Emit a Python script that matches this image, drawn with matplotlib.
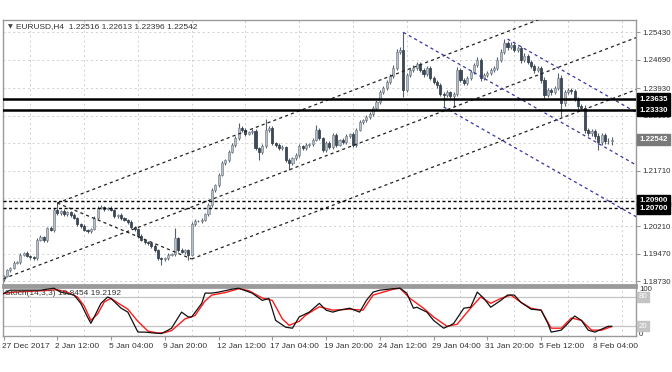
import matplotlib
matplotlib.use('Agg')
import matplotlib.pyplot as plt
import matplotlib.transforms as mtransforms
import numpy as np

plt.rcParams['font.family'] = ['Liberation Sans', 'DejaVu Sans']

# ---------------- data ----------------
first_open = 1.18800
closes = [
    1.18872, 1.19033, 1.19087, 1.19222, 1.19249, 1.19437, 1.19491, 1.19410, 1.19383, 1.19356,
    1.19841, 1.19921, 1.19841, 1.20164, 1.20110, 1.20648, 1.20567, 1.20621, 1.20540, 1.20594,
    1.20513, 1.20433, 1.20271, 1.20217, 1.20110, 1.20083, 1.20137, 1.20433, 1.20702, 1.20729,
    1.20675, 1.20702, 1.20648, 1.20486, 1.20513, 1.20433, 1.20379, 1.20325, 1.20190, 1.20137,
    1.19948, 1.19841, 1.19787, 1.19760, 1.19679, 1.19571, 1.19356, 1.19329, 1.19356, 1.19437,
    1.19464, 1.19894, 1.19571, 1.19518, 1.19571, 1.19437, 1.20271, 1.20352, 1.20352, 1.20379,
    1.20540, 1.20782, 1.21186, 1.21321, 1.21590, 1.21913, 1.21993, 1.22209, 1.22397, 1.22585,
    1.22855, 1.22801, 1.22693, 1.22747, 1.22774, 1.22316, 1.22209, 1.22370, 1.22801, 1.22855,
    1.22451, 1.22397, 1.22316, 1.22343, 1.21993, 1.21913, 1.22047, 1.22128, 1.22370, 1.22316,
    1.22397, 1.22424, 1.22532, 1.22801, 1.22585, 1.22262, 1.22451, 1.22343, 1.22666, 1.22397,
    1.22532, 1.22478, 1.22639, 1.22693, 1.22397, 1.22801, 1.23016, 1.23070, 1.23151, 1.23231,
    1.23393, 1.23554, 1.23823, 1.23931, 1.24092, 1.24254, 1.24469, 1.24900, 1.24953, 1.23877,
    1.24281, 1.24415, 1.24469, 1.24577, 1.24415, 1.24308, 1.24469, 1.24200, 1.24092, 1.24012,
    1.23769, 1.23743, 1.23823, 1.23716, 1.23769, 1.24415, 1.24146, 1.24065, 1.24200, 1.24361,
    1.24550, 1.24684, 1.24200, 1.24281, 1.24335, 1.24415, 1.24469, 1.24684, 1.24900, 1.25142,
    1.25034, 1.25088, 1.24953, 1.25007, 1.24684, 1.24792, 1.24631, 1.24523, 1.24415, 1.24469,
    1.24146, 1.23743, 1.23877, 1.23823, 1.23931, 1.24200, 1.23527, 1.23823, 1.23877, 1.23850,
    1.23635, 1.23447, 1.23393, 1.22801, 1.22720, 1.22774, 1.22639, 1.22478, 1.22666, 1.22505,
    1.22516, 1.22542]

# upper / lower wick lengths in pips (0.0001)
hi_pips = [
    3, 4, 3, 5, 4, 6, 4, 5, 3, 4,
    5, 6, 4, 3, 5, 6, 18, 4, 5, 4,
    4, 5, 3, 4, 5, 3, 4, 6, 5, 5,
    4, 3, 5, 4, 3, 5, 4, 3, 5, 4,
    4, 5, 3, 4, 3, 5, 4, 3, 4, 5,
    4, 27, 4, 5, 3, 4, 6, 5, 4, 5,
    4, 6, 5, 4, 6, 5, 4, 6, 5, 6,
    14, 5, 6, 4, 5, 6, 4, 5, 30, 5,
    6, 4, 5, 6, 4, 5, 4, 6, 5, 4,
    5, 4, 6, 13, 5, 4, 6, 5, 6, 5,
    4, 5, 6, 4, 5, 6, 5, 4, 5, 6,
    5, 6, 5, 6, 5, 6, 8, 7, 8, 48,
    6, 5, 7, 6, 5, 6, 5, 6, 5, 6,
    5, 6, 5, 4, 6, 8, 6, 5, 6, 5,
    6, 7, 6, 5, 6, 5, 6, 7, 8, 11,
    6, 7, 6, 5, 6, 7, 5, 6, 5, 6,
    6, 7, 6, 5, 6, 14, 7, 6, 5, 6,
    6, 5, 6, 7, 6, 5, 6, 7, 6, 5,
    6, 7]
lo_pips = [
    6, 4, 5, 3, 4, 5, 4, 3, 5, 4,
    5, 4, 6, 5, 4, 5, 4, 5, 6, 4,
    5, 4, 6, 5, 4, 6, 5, 4, 5, 4,
    5, 4, 3, 5, 4, 5, 4, 5, 4, 6,
    5, 4, 6, 5, 4, 6, 5, 16, 4, 5,
    4, 5, 6, 4, 5, 13, 4, 5, 4, 5,
    4, 5, 4, 6, 5, 4, 5, 6, 4, 5,
    4, 6, 5, 4, 5, 6, 21, 5, 4, 6,
    5, 6, 4, 5, 6, 19, 5, 4, 6, 5,
    4, 5, 6, 4, 5, 6, 4, 5, 6, 5,
    4, 6, 5, 4, 6, 5, 4, 5, 6, 5,
    6, 5, 6, 5, 6, 5, 6, 5, 6, 18,
    6, 5, 6, 5, 6, 7, 6, 5, 6, 7,
    6, 32, 6, 5, 30, 6, 5, 6, 5, 6,
    5, 6, 7, 6, 5, 6, 5, 6, 5, 6,
    7, 6, 5, 6, 7, 6, 5, 6, 7, 6,
    7, 8, 6, 7, 6, 5, 38, 7, 6, 7,
    6, 7, 6, 8, 7, 8, 7, 22, 8, 7,
    9, 12]

price_ticks = [1.25430, 1.24690, 1.23930, 1.23190, 1.22450, 1.21710,
               1.20960, 1.20210, 1.19470, 1.18730]
price_tick_labels = ['1.25430', '1.24690', '1.23930', '1.23190', '1.22450', '1.21710',
                     '', '1.20210', '1.19470', '1.18730']
date_labels = ['27 Dec 2017', '2 Jan 12:00', '5 Jan 04:00', '9 Jan 20:00',
               '12 Jan 12:00', '17 Jan 04:00', '19 Jan 20:00', '24 Jan 12:00',
               '29 Jan 04:00', '31 Jan 20:00', '5 Feb 12:00', '8 Feb 04:00']
date_label_bars = [0, 16, 32, 48, 64, 80, 96, 112, 128, 144, 160, 176]
grid_bars = [8, 24, 40, 56, 72, 88, 104, 120, 136, 152, 168, 184]

resistance_levels = [1.23635, 1.23330]
support_levels = [1.20900, 1.20700]
last_price = 1.22542

# black ascending channel: start points (bar, price) and common slope per bar
up_channel_starts = [(16, 1.20835), (0, 1.18800), (56, 1.19330)]
up_slope = 0.0003445
down_segment = [(16, 1.20835), (56, 1.19330)]
# blue descending channel
dn_channel_starts = [(150, 1.25250), (119, 1.25430), (131, 1.23420)]
dn_slope = -0.0005154

# stochastic (14,3,3)
main_idx = [0, 2, 11, 15, 17, 21, 23, 25, 26, 27, 29, 31, 32, 35, 37, 40, 42, 45, 47, 49,
            50, 53, 55, 56, 59, 60, 62, 64, 68, 70, 74, 77, 79, 81, 84, 86, 88, 91, 94, 96,
            98, 100, 103, 106, 108, 110, 112, 116, 118, 120, 122, 123, 126, 128, 131, 133, 134, 137, 139, 141,
            143, 145, 148, 150, 152, 154, 157, 160, 162, 163, 166, 168, 170, 172, 174, 176, 178, 180, 181]
main_val = [87, 94, 94, 98, 90, 84, 67, 39, 26, 39, 67, 80, 77, 57, 49, 8, 8, 6, 5, 12,
            16, 49, 39, 39, 67, 88, 88, 90, 96, 98, 88, 73, 77, 32, 18, 16, 39, 49, 67, 53,
            49, 53, 57, 49, 73, 90, 94, 97, 98, 88, 57, 59, 49, 32, 16, 22, 26, 57, 59, 90,
            77, 59, 73, 84, 84, 69, 55, 53, 26, 8, 12, 26, 41, 32, 12, 8, 14, 20, 19.8454]
sig_idx = [0, 3, 12, 16, 19, 22, 24, 26, 28, 30, 32, 34, 37, 40, 43, 46, 48, 50, 54, 57,
           60, 62, 66, 70, 73, 77, 80, 83, 85, 88, 90, 94, 98, 103, 107, 110, 116, 118, 121, 125,
           128, 132, 135, 139, 142, 145, 148, 151, 154, 157, 160, 163, 166, 169, 172, 175, 178, 181]
sig_val = [87, 90, 93, 95, 90, 80, 62, 32, 45, 70, 77, 68, 55, 30, 10, 6, 7, 11, 35, 42,
           72, 84, 89, 97, 93, 78, 73, 35, 22, 30, 43, 60, 53, 55, 53, 84, 96, 98, 77, 57,
           39, 20, 24, 57, 80, 67, 77, 84, 69, 57, 53, 16, 16, 37, 32, 12, 12, 19.2192]
stoch_levels = [80, 20]

title_text = 'EURUSD,H4  1.22516 1.22613 1.22396 1.22542'
stoch_text = 'Stoch(14,3,3) 19.8454 19.2192'

# ---------------- figure ----------------
W, H = 672, 372
fig = plt.figure(figsize=(W / 100, H / 100), dpi=100)
fig.patch.set_facecolor('white')


def px_axes(l, t, r, b):
    return fig.add_axes([l / W, 1 - b / H, (r - l) / W, (b - t) / H])


ax = px_axes(3, 20, 636, 285)
ax2 = px_axes(3, 287, 636, 336)
XL = (-0.15, 188.24)

frame_c = '#9a9a9a'
grid_c = '#d0d0d0'
txt_c = '#333333'
FS = 5.7

for a in (ax, ax2):
    a.set_xlim(*XL)
    a.set_facecolor('white')
    for s in a.spines.values():
        s.set_color(frame_c)
        s.set_linewidth(1.0)
ax.spines['bottom'].set_linewidth(2.0)
ax2.spines['top'].set_linewidth(2.0)

ax.set_ylim(1.18630, 1.25761)

# grid
for p in price_ticks:
    ax.axhline(p, color=grid_c, lw=0.7, ls=(0, (2, 3)), zorder=0)
for g in grid_bars:
    ax.axvline(g, color=grid_c, lw=0.7, ls=(0, (2, 3)), zorder=0)
    ax2.axvline(g, color=grid_c, lw=0.7, ls=(0, (2, 3)), zorder=0)

# candles
n = len(closes)
idx = np.arange(n)
c = np.array(closes)
o = np.array([first_open] + closes[:-1])
top = np.maximum(o, c)
bot = np.minimum(o, c)
hi = top + np.array(hi_pips) * 1e-4
lo = bot - np.array(lo_pips) * 1e-4
bull = c >= o
ax.vlines(idx, lo, hi, color='#55606b', lw=0.8, zorder=3)
hgt = np.maximum(top - bot, 0.00005)
ax.bar(idx[bull], hgt[bull], bottom=bot[bull], width=0.62, color='#b9c0c8',
       edgecolor='#7c858e', linewidth=0.5, zorder=4)
ax.bar(idx[~bull], hgt[~bull], bottom=bot[~bull], width=0.62, color='#3b4959',
       edgecolor='#2d3844', linewidth=0.5, zorder=4)

# horizontal levels
for lv in resistance_levels:
    ax.axhline(lv, color='black', lw=1.8, zorder=6)
for lv in support_levels:
    ax.axhline(lv, color='black', lw=1.0, ls=(0, (2.2, 1.8)), zorder=6)

# channels
xend = 190
for (x0, y0) in up_channel_starts:
    ax.plot([x0, xend], [y0, y0 + up_slope * (xend - x0)], color='#222222',
            lw=0.9, ls=(0, (2.5, 2.5)), zorder=5)
ax.plot([down_segment[0][0], down_segment[1][0]],
        [down_segment[0][1], down_segment[1][1]], color='#222222',
        lw=0.9, ls=(0, (2.5, 2.5)), zorder=5)
for (x0, y0) in dn_channel_starts:
    ax.plot([x0, xend], [y0, y0 + dn_slope * (xend - x0)], color='#3535a8',
            lw=0.9, ls=(0, (2.5, 2.5)), zorder=5)

# right axis price labels
ax.yaxis.tick_right()
ax.set_yticks(price_ticks)
ax.set_yticklabels(price_tick_labels)
ax.tick_params(axis='y', direction='out', length=3, width=0.8, color=frame_c,
               labelsize=FS, labelcolor=txt_c, pad=1.5)
ax.set_xticks([])

btr = mtransforms.blended_transform_factory(ax.transAxes, ax.transData)
xlab = 1 + 3 / 633


def price_box(a, tr, y, text, fc, tc):
    a.text(xlab, y, text, transform=tr, va='center', ha='left', fontsize=FS,
           color=tc, fontweight='bold', clip_on=False, zorder=20,
           bbox=dict(boxstyle='square,pad=0.28', fc=fc, ec=fc))


for lv in resistance_levels + support_levels:
    price_box(ax, btr, lv, '%.5f' % lv, 'black', 'white')
price_box(ax, btr, last_price, '%.5f' % last_price, '#7a7a7a', 'white')

# title
ax.text(5 / 633, 1 - 7 / 265, '\u25BC', transform=ax.transAxes, fontsize=4.5,
        color='#444444', va='center', ha='left', family='DejaVu Sans')
ax.text(13 / 633, 1 - 7 / 265, title_text, transform=ax.transAxes, fontsize=6,
        color=txt_c, va='center', ha='left')

# ---------------- stochastic ----------------
ax2.set_ylim(0, 100.5)
for lv in stoch_levels:
    ax2.axhline(lv, color='#c4c4c4', lw=0.9, zorder=1)
ax2.plot(sig_idx, sig_val, color='#ff1a1a', lw=1.0, zorder=3)
ax2.plot(main_idx, main_val, color='#111111', lw=0.9, zorder=4)
ax2.text(2 / 633, 0.86, stoch_text, transform=ax2.transAxes, fontsize=6,
         color=txt_c, va='center', ha='left', zorder=6)

ax2.set_yticks([])
ax2.set_xticks(date_label_bars)
ax2.set_xticklabels(date_labels)
ax2.tick_params(axis='x', direction='out', length=3, width=0.8, color=frame_c,
                labelsize=6, labelcolor=txt_c, pad=2)
off = mtransforms.ScaledTranslation(-2 / 100, 0, fig.dpi_scale_trans)
for lab in ax2.get_xticklabels():
    lab.set_ha('left')
    lab.set_transform(lab.get_transform() + off)

btr2 = mtransforms.blended_transform_factory(ax2.transAxes, ax2.transData)
ax2.text(xlab, 96, '100', transform=btr2, va='center', ha='left', fontsize=FS,
         color=txt_c, clip_on=False)
ax2.text(xlab, 4, '0', transform=btr2, va='center', ha='left', fontsize=FS,
         color=txt_c, clip_on=False)
for lv in stoch_levels:
    ax2.text(xlab, lv, str(lv), transform=btr2, va='center', ha='left', fontsize=FS,
             color='white', clip_on=False, zorder=20,
             bbox=dict(boxstyle='square,pad=0.2', fc='#c4c4c4', ec='#c4c4c4'))

fig.savefig('out.png', dpi=100, facecolor='white')
